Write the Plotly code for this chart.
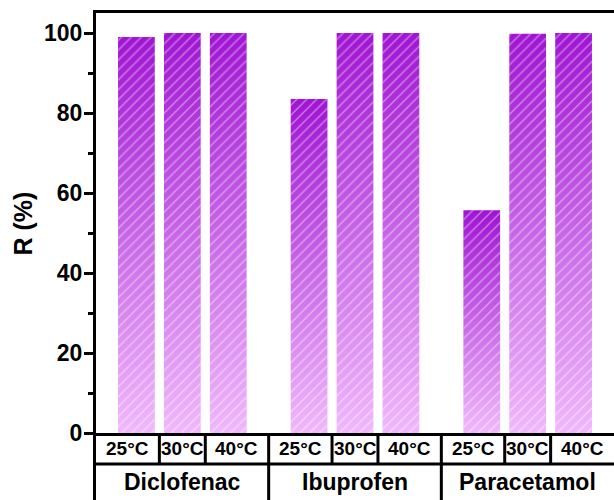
import plotly.graph_objects as go

# Removal efficiency R (%) per drug and temperature
drugs = ["Diclofenac", "Ibuprofen", "Paracetamol"]
temps = ["25°C", "30°C", "40°C"]
r_diclofenac = [99.0, 100.0, 100.0]
r_ibuprofen = [83.5, 100.0, 100.0]
r_paracetamol = [55.7, 99.8, 100.0]
values = [r_diclofenac, r_ibuprofen, r_paracetamol]

y_ticks = [0, 20, 40, 60, 80, 100]

# layout constants
group_step = 3.76
bar_w = 0.8
pad = 0.88
FONT = "Liberation Sans, Arial, sans-serif"
TOP_COL = "#a014d2"
BOT_COL = "#f0b8fc"

fig = go.Figure()

xs, ys = [], []
for g, vals in enumerate(values):
    for j, v in enumerate(vals):
        xs.append(g * group_step + j)
        ys.append(v)


def bar_outline(x, v):
    return ([x - bar_w / 2, x + bar_w / 2, x + bar_w / 2, x - bar_w / 2, x - bar_w / 2],
            [0, 0, v, v, 0])


# gradient body of each bar (light at the base, dark at the top)
for x, v in zip(xs, ys):
    px, py = bar_outline(x, v)
    fig.add_trace(go.Scatter(
        x=px, y=py, mode="lines", line=dict(width=0), fill="toself",
        fillgradient=dict(type="vertical", colorscale=[[0, BOT_COL], [1, TOP_COL]]),
        hoverinfo="skip", showlegend=False,
    ))

# white diagonal hatching over every bar
hx, hy = [], []
for x, v in zip(xs, ys):
    px, py = bar_outline(x, v)
    hx += px + [None]
    hy += py + [None]
fig.add_trace(go.Scatter(
    x=hx, y=hy, mode="lines", line=dict(width=0), fill="toself",
    fillcolor="rgba(0,0,0,0)",
    fillpattern=dict(shape="/", fgcolor="rgba(255,255,255,0.85)",
                     bgcolor="rgba(0,0,0,0)", size=7, solidity=0.2),
    hoverinfo="skip", showlegend=False,
))

x_lo = -pad
x_hi = (len(drugs) - 1) * group_step + 2 + pad

row1 = -0.074   # split between temperature row and drug row
row2 = -0.25    # below the figure edge
LW = 3
shapes = []
annotations = []

# left line continues down through the label rows
shapes.append(dict(type="line", xref="paper", yref="paper", x0=-0.0029, x1=-0.0029,
                   y0=0, y1=row2, line=dict(color="black", width=LW)))
# horizontal split between rows
shapes.append(dict(type="line", xref="x", yref="paper", x0=x_lo, x1=x_hi + 1,
                   y0=row1, y1=row1, line=dict(color="black", width=LW)))

for g, d in enumerate(drugs):
    c0 = g * group_step
    left = x_lo if g == 0 else c0 - (group_step - 2) / 2
    right = x_hi if g == len(drugs) - 1 else c0 + 2 + (group_step - 2) / 2
    edges = [left, c0 + 0.5, c0 + 1.5, right]
    for e in edges[1:3]:
        shapes.append(dict(type="line", xref="x", yref="paper", x0=e, x1=e,
                           y0=0, y1=row1, line=dict(color="black", width=LW)))
    if g < len(drugs) - 1:
        shapes.append(dict(type="line", xref="x", yref="paper", x0=right, x1=right,
                           y0=0, y1=row2, line=dict(color="black", width=LW)))
    for j, t in enumerate(temps):
        annotations.append(dict(x=(edges[j] + edges[j + 1]) / 2, y=row1 / 2,
                                xref="x", yref="paper", text=t, showarrow=False,
                                xanchor="center", yanchor="middle",
                                font=dict(family=FONT, size=19, color="black", weight="bold")))
    annotations.append(dict(x=(left + right) / 2, y=-0.117, xref="x", yref="paper",
                            text=d, showarrow=False, xanchor="center", yanchor="middle",
                            font=dict(family=FONT, size=23, color="black", weight="bold")))

annotations.append(dict(x=-0.14, y=0.5, xref="paper", yref="paper", text="R (%)",
                        textangle=-90, showarrow=False, xanchor="center", yanchor="middle",
                        font=dict(family=FONT, size=25, color="black", weight="bold")))

fig.update_layout(
    width=614, height=500,
    margin=dict(l=96, r=0, t=13, b=67),
    paper_bgcolor="white", plot_bgcolor="white",
    showlegend=False,
    shapes=shapes, annotations=annotations,
    xaxis=dict(range=[x_lo, x_hi], showticklabels=False, ticks="", showgrid=False,
               zeroline=False, showline=True, linecolor="black", linewidth=LW, mirror=True,
               fixedrange=True),
    yaxis=dict(range=[0, 105], tickvals=y_ticks, ticks="outside", ticklen=9, tickwidth=LW,
               tickcolor="black", showgrid=False, zeroline=False, showline=True,
               linecolor="black", linewidth=LW, ticklabelstandoff=-3,
               minor=dict(dtick=10, tick0=0, ticks="outside", ticklen=5, tickwidth=LW,
                          tickcolor="black", showgrid=False),
               tickfont=dict(family=FONT, size=23, color="black", weight="bold"),
               fixedrange=True),
)

fig.write_html("out.html")
